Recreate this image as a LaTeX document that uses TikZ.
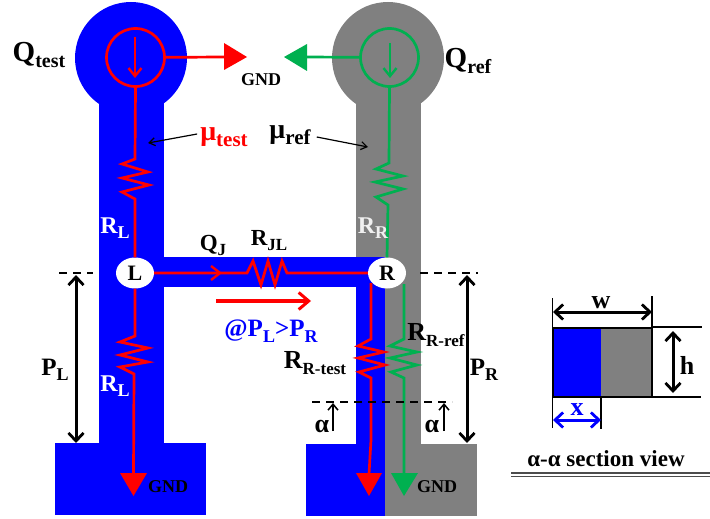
\documentclass[tikz,border=0pt]{standalone}
\usepackage{fontspec}
\setmainfont{Liberation Serif}
\usetikzlibrary{arrows.meta,shapes.geometric}
\definecolor{bl}{HTML}{0000FF}
\definecolor{gy}{HTML}{808080}
\definecolor{rd}{HTML}{FF0000}
\definecolor{gn}{HTML}{00B050}
\newcommand{\lab}[4]{{\fontsize{#3}{#3}\selectfont\bfseries #1\raisebox{-0.22em}{\fontsize{#4}{#4}\selectfont #2}}}
\tikzset{
  wirer/.style={draw=rd,line width=2.7pt,line join=miter},
  wireg/.style={draw=gn,line width=2.7pt,line join=miter},
  barb/.style={-{Straight Barb[length=9pt,width=14pt,line width=2.4pt]}},
  dim/.style={black,line width=3pt,{Straight Barb[length=8pt,width=15pt,line width=2.8pt]}-{Straight Barb[length=8pt,width=15pt,line width=2.8pt]}},
  dashl/.style={black,line width=1.3pt,dash pattern=on 8pt off 6pt},
  thinl/.style={black,line width=1.2pt},
  lbl/.style={inner sep=0pt,font=\bfseries},
  junction/.style={ellipse,fill=white,inner sep=0pt,minimum width=38pt,minimum height=31pt,font=\fontsize{22}{22}\selectfont\bfseries},
  source/.style={circle,inner sep=0pt,minimum size=58pt,line width=2.7pt}
}
\begin{document}
\begin{tikzpicture}[x=1pt,y=-1pt]
\useasboundingbox (0,0) rectangle (710,519);
\fill[white] (0,0) rectangle (710,519);
% metal: grey
\fill[gy] (388,58) circle[radius=56];
\fill[gy] (356,90) rectangle (421,444);
\fill[gy] (385,444) rectangle (477,516);
% metal: blue
\fill[bl] (131,58) circle[radius=56];
\fill[bl] (99,90) rectangle (164,443);
\fill[bl] (55,443) rectangle (206,515);
\fill[bl] (164,257) rectangle (385,287);
\fill[bl] (356,287) rectangle (385,444);
\fill[bl] (306,444) rectangle (385,516);
% junctions and sources
\node[source,draw=rd] (St) at (135.5,57.5) {};
\node[source,draw=gn] (Sr) at (389.5,57.5) {};
\node[junction] (L) at (135,273) {L};
\node[junction] (R) at (387,273) {R};
% ground triangles
\fill[rd] (224,43) -- (247,57) -- (224,70) -- cycle;
\fill[gn] (307,44) -- (284,57) -- (307,71) -- cycle;
\fill[rd] (120,473) -- (147,473) -- (133.5,496) -- cycle;
\fill[rd] (356,473) -- (382,473) -- (369,496) -- cycle;
\fill[gn] (391,473) -- (418,473) -- (404,496) -- cycle;
\coordinate (Gtr) at (224,57);
\coordinate (Ggl) at (307,57);
\coordinate (Gb1) at (133.5,474);
\coordinate (Gb2) at (369,474);
\coordinate (Gb3) at (404,474);
% wires
\draw[wirer] (St) -- (Gtr);
\draw[wireg] (Sr) -- (Ggl);
\draw[wirer,-{Straight Barb[length=8pt,width=13pt,line width=2.4pt]}] (135,37) -- (135,78);
\draw[wireg,-{Straight Barb[length=8pt,width=13pt,line width=2.4pt]}] (390,43) -- (390,78);
\draw[wirer] (St.south) -- (135,159) -- (122,164) -- (148,172) -- (122,178) -- (149,185) -- (122,192) -- (135,199) -- (L.north);
\draw[wirer] (L.south) -- (135,336) -- (120,342) -- (148,348) -- (120,355) -- (148,362) -- (120,367) -- (134,374) -- (Gb1);
\draw[wirer] (L.east) -- (247,273) -- (253,261) -- (261,285) -- (268,261) -- (275,285) -- (282,261) -- (287,273) -- (R.west);
\draw[wirer,barb] (L.east) -- (222,273);
\draw[wirer] (371,283) -- (371,339) -- (358,346) -- (384,352) -- (358,358) -- (385,365) -- (359,372) -- (371,378) -- (371,440) -- (Gb2);
\draw[wireg] (Sr.south) -- (389,163) -- (376,169) -- (403,176) -- (375,182) -- (403,189) -- (376,197) -- (388,205) -- (R.north);
\draw[wireg] (404,284) -- (404,339) -- (390,346) -- (417,352) -- (390,358) -- (417,365) -- (391,372) -- (404,378) -- (Gb3);
\draw[rd,line width=3.6pt,-{Straight Barb[length=10pt,width=17pt,line width=3pt]}] (216,301) -- (311,301);
% dimension lines
\coordinate (dLa) at (59,273); \coordinate (dLb) at (93,273);
\coordinate (dRa) at (420,273); \coordinate (dRb) at (478,273);
\coordinate (dAa) at (312,402); \coordinate (dAb) at (452,402);
\draw[dashl] (dLa) -- (dLb);
\draw[dashl] (dRa) -- (dRb);
\draw[dashl] (dAa) -- (dAb);
\coordinate (pLa) at (76,275); \coordinate (pLb) at (76,443);
\coordinate (pRa) at (467,275); \coordinate (pRb) at (467,443);
\draw[dim] (pLa) -- (pLb);
\draw[dim] (pRa) -- (pRb);
\coordinate (aLa) at (333,431); \coordinate (aLb) at (333,403);
\coordinate (aRa) at (444,431); \coordinate (aRb) at (444,403);
\draw[thinl,line width=1.5pt,-{Straight Barb[length=6pt,width=10pt]}] (aLa) -- (aLb);
\draw[thinl,line width=1.5pt,-{Straight Barb[length=6pt,width=10pt]}] (aRa) -- (aRb);
% labels
\node[lbl] (Qt) at (39,55) {\lab{Q}{test}{29}{20}};
\node[lbl] (Qr) at (468,61) {\lab{Q}{ref}{29}{20}};
\node[lbl,text=rd] (mt) at (224,137) {\lab{μ}{test}{28}{21}};
\node[lbl] (mr) at (290,135) {\lab{μ}{ref}{28}{21}};
\coordinate (mtE) at (148,143); \coordinate (mrE) at (368,147);
\draw[thinl,-{Straight Barb[length=6pt,width=8pt]}] (mt.west) ++(-3,-3) -- (mtE);
\draw[thinl,-{Straight Barb[length=6pt,width=8pt]}] (mr.east) ++(6,2) -- (mrE);
\node[lbl,text=white] at (115,228) {\lab{R}{L}{24}{18}};
\node[lbl,text=white] at (115,386) {\lab{R}{L}{24}{18}};
\node[lbl,text=white!88!gy] at (373,228) {\lab{R}{R}{24}{18}};
\node[lbl] at (213,245) {\lab{Q}{J}{23}{17}};
\node[lbl] at (269,241) {\lab{R}{JL}{23}{17}};
\node[lbl,text=bl] at (271,331) {\lab{@P}{L}{25}{18}\lab{>P}{R}{25}{18}};
\node[lbl] at (315,363) {\lab{R}{R-test}{26}{17}};
\node[lbl] at (436,335) {\lab{R}{R-ref}{26}{17}};
\node[lbl] at (55,370) {\lab{P}{L}{25}{18}};
\node[lbl] at (484,370) {\lab{P}{R}{25}{18}};
\node[lbl] at (261,80) {\fontsize{18}{18}\selectfont GND};
\node[lbl] at (168,487) {\fontsize{18}{18}\selectfont GND};
\node[lbl] at (437,487) {\fontsize{18}{18}\selectfont GND};
\node[lbl] at (322,426) {\fontsize{26}{26}\selectfont α};
\node[lbl] at (432,426) {\fontsize{26}{26}\selectfont α};
% section view
\fill[gy] (601,328) rectangle (652,397);
\fill[bl] (553,328) rectangle (601,397);
\draw[black,line width=2.4pt] (553,328) rectangle (652,397);
\draw[thinl] (552.5,298) -- (552.5,428);
\draw[thinl] (652,296) -- (652,328);
\draw[thinl] (601,397) -- (601,429);
\draw[thinl] (652,327) -- (702,327);
\draw[thinl] (652,397) -- (701,397);
\coordinate (wa) at (553,312); \coordinate (wb) at (652,312);
\coordinate (ha) at (673,331); \coordinate (hb) at (673,393);
\coordinate (xa) at (553,420); \coordinate (xb) at (601,420);
\draw[dim] (wa) -- (wb);
\draw[dim] (ha) -- (hb);
\draw[dim,draw=bl] (xa) -- (xb);
\node[lbl] at (601,303) {\fontsize{26}{26}\selectfont w};
\node[lbl] at (687,365) {\fontsize{26}{26}\selectfont h};
\node[lbl,text=bl] at (577,410) {\fontsize{26}{26}\selectfont x};
\node[lbl] at (606,459) {\fontsize{23}{23}\selectfont α-α section view};
\coordinate (ula) at (511,473); \coordinate (ulb) at (710,473);
\coordinate (ulc) at (511,476.5); \coordinate (uld) at (710,476.5);
\draw[black!70,line width=1.2pt] (ula) -- (ulb);
\draw[black!70,line width=1.2pt] (ulc) -- (uld);
\end{tikzpicture}
\end{document}
